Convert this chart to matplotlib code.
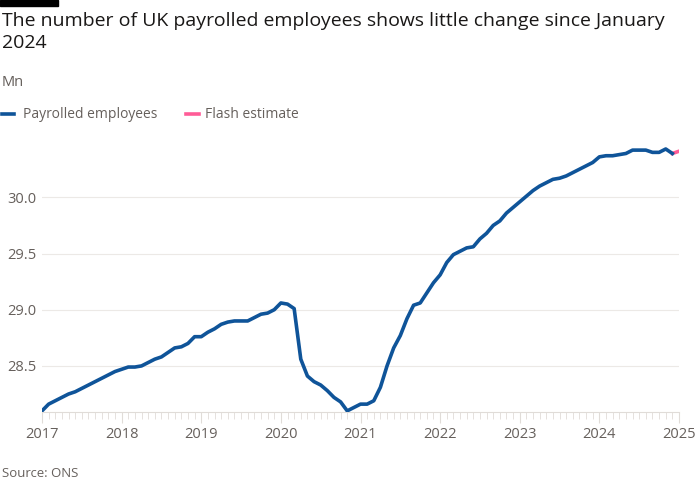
import matplotlib
matplotlib.use("Agg")
import matplotlib.pyplot as plt
import numpy as np

plt.rcParams["font.family"] = "Open Sans"

values = [
 28.10,28.16,28.19,28.22,28.25,28.27,28.30,28.33,28.36,28.39,28.42,28.45,
 28.47,28.49,28.49,28.50,28.53,28.56,28.58,28.62,28.66,28.67,28.70,28.76,
 28.76,28.80,28.83,28.87,28.89,28.90,28.90,28.90,28.93,28.96,28.97,29.00,
 29.06,29.05,29.01,28.56,28.41,28.36,28.33,28.28,28.22,28.18,28.10,28.13,
 28.16,28.16,28.19,28.31,28.50,28.66,28.77,28.92,29.04,29.06,29.15,29.24,
 29.31,29.42,29.49,29.52,29.55,29.56,29.63,29.68,29.75,29.79,29.86,29.91,
 29.96,30.01,30.06,30.10,30.13,30.16,30.17,30.19,30.22,30.25,30.28,30.31,
 30.36,30.37,30.37,30.38,30.39,30.42,30.42,30.42,30.40,30.40,30.43,30.39,
]
flash_value = 30.41
start_year = 2017
year_ticks = list(range(2017, 2026))
y_ticks = [28.5, 29.0, 29.5, 30.0]

x = start_year + np.arange(len(values)) / 12

fig = plt.figure(figsize=(7, 5), dpi=100)
ax = fig.add_axes([0.06, 0.176, 0.91, 0.544])
for t in y_ticks:
    ax.axhline(t, color="#ece9e6", lw=0.8, zorder=0)
ax.plot(x, values, color="#0f5499", lw=2.6, solid_joinstyle="round", zorder=3)
ax.plot([x[-1], start_year + len(values) / 12], [values[-1], flash_value],
        color="#ff5c97", lw=2.6, zorder=2)
ax.set_xlim(2017, 2025)
ax.set_ylim(28.09, 30.51)
ax.set_yticks(y_ticks)
ax.set_yticklabels([f"{t:.1f}" for t in y_ticks])
ax.tick_params(axis="y", length=0, pad=25, labelsize=10.5, labelcolor="#66605c")
for lab in ax.get_yticklabels():
    lab.set_horizontalalignment("left")
ax.set_xticks(year_ticks)
ax.set_xticklabels([str(y) for y in year_ticks])
ax.set_xticks(start_year + np.arange(97) / 12, minor=True)
ax.tick_params(axis="x", which="major", length=8, color="#e0dcd8", labelsize=10.5,
               labelcolor="#66605c", pad=3)
ax.tick_params(axis="x", which="minor", length=5, color="#e0dcd8")
for s in ["top", "right", "left"]:
    ax.spines[s].set_visible(False)
ax.spines["bottom"].set_color("#e0dcd8")

fig.add_artist(plt.Rectangle((0, 0.988), 0.083, 0.012, transform=fig.transFigure, color="black"))
fig.text(0.003, 0.975, "The number of UK payrolled employees shows little change since January\n2024",
         fontsize=14, va="top", ha="left", color="#1a1817", linespacing=1.25)
fig.text(0.003, 0.835, "Mn", fontsize=10.5, color="#66605c", va="center")
fig.lines.append(plt.Line2D([0.003, 0.02], [0.772, 0.772], transform=fig.transFigure, color="#0f5499", lw=2.6))
fig.text(0.033, 0.772, "Payrolled employees", fontsize=10, color="#66605c", va="center")
fig.lines.append(plt.Line2D([0.265, 0.285], [0.772, 0.772], transform=fig.transFigure, color="#ff5c97", lw=2.6))
fig.text(0.293, 0.772, "Flash estimate", fontsize=10, color="#66605c", va="center")
fig.text(0.003, 0.053, "Source: ONS", fontsize=9.5, color="#66605c", va="center")
fig.savefig("out.png", dpi=100, facecolor="white")
